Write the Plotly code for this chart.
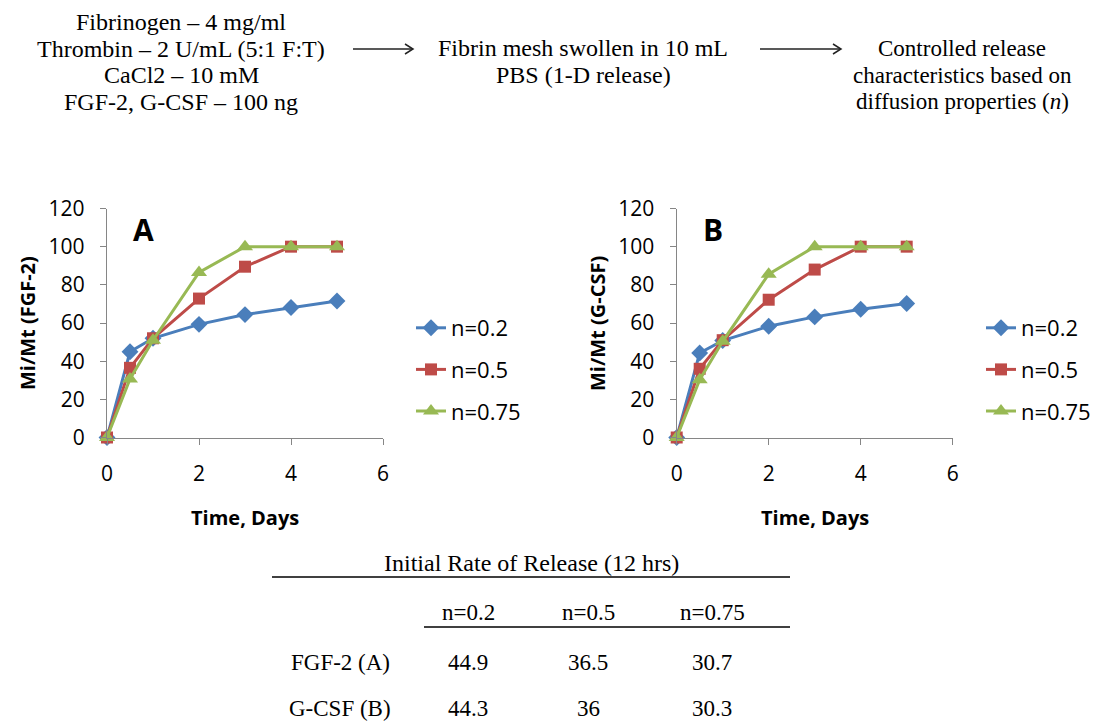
import plotly.graph_objects as go

W, H = 1093, 724

# ---------------- data ----------------
days = [0, 0.5, 1, 2, 3, 4, 5]
series_names = ["n=0.2", "n=0.5", "n=0.75"]

fgf2_n02 = [0, 44.9, 52.0, 59.3, 64.4, 68.1, 71.5]
fgf2_n05 = [0, 36.5, 52.0, 72.8, 89.5, 100, 100]
fgf2_n075 = [0, 30.7, 51.0, 86.5, 100, 100, 100]

gcsf_n02 = [0, 44.3, 50.8, 58.3, 63.2, 67.2, 70.2]
gcsf_n05 = [0, 36.0, 51.0, 72.2, 88.0, 100, 100]
gcsf_n075 = [0, 30.3, 50.4, 85.6, 100, 100, 100]

table_title = "Initial Rate of Release (12 hrs)"
table_cols = ["n=0.2", "n=0.5", "n=0.75"]
table_rows = ["FGF-2 (A)", "G-CSF (B)"]
table_fgf2 = ["44.9", "36.5", "30.7"]
table_gcsf = ["44.3", "36", "30.3"]

left_lines = ["Fibrinogen – 4 mg/ml", "Thrombin – 2 U/mL (5:1 F:T)",
              "CaCl2 – 10 mM", "FGF-2, G-CSF – 100 ng"]
mid_lines = ["Fibrin mesh swollen in 10 mL", "PBS (1-D release)"]
right_lines = ["Controlled release", "characteristics based on",
               "diffusion properties (<i>n</i>)"]

# ---------------- styles ----------------
colors = ["#4A7EBB", "#BE4B48", "#98B954"]
symbols = ["diamond", "square", "triangle-up"]
msizes = [13, 12, 14]
AX = "#868686"
SANS = "Open Sans"
SERIF = "Liberation Serif"


def px(x):
    return x / W


def py(y):
    return 1 - y / H


fig = go.Figure()

groups = [
    ("x", "y", "legend", [fgf2_n02, fgf2_n05, fgf2_n075]),
    ("x2", "y2", "legend2", [gcsf_n02, gcsf_n05, gcsf_n075]),
]
for gi, (xa, ya, lg, data) in enumerate(groups):
    for i, vals in enumerate(data):
        fig.add_trace(go.Scatter(
            x=days, y=vals, name=series_names[i], mode="lines+markers",
            xaxis=xa, yaxis=ya, legend=lg, legendgroup=f"{lg}_{i}",
            line=dict(color=colors[i], width=3),
            marker=dict(symbol=symbols[i], size=msizes[i], color=colors[i]),
            cliponaxis=False,
        ))

axis_common = dict(showgrid=False, zeroline=False, showline=True, linecolor=AX,
                   linewidth=1.3, ticks="outside", ticklen=6, tickcolor=AX,
                   tickfont=dict(family=SANS, size=21, color="black"),
                   fixedrange=True)

ydom = [py(437.5), py(208.5)]
fig.update_layout(
    xaxis=dict(domain=[px(107), px(383)], range=[0, 6], dtick=2, anchor="y",
               ticklabelstandoff=11, **axis_common),
    yaxis=dict(domain=ydom, range=[0, 120], dtick=20, anchor="x",
               ticklabelstandoff=11, **axis_common),
    xaxis2=dict(domain=[px(676.7), px(952.7)], range=[0, 6], dtick=2, anchor="y2",
                ticklabelstandoff=11, **axis_common),
    yaxis2=dict(domain=ydom, range=[0, 120], dtick=20, anchor="x2",
                ticklabelstandoff=11, **axis_common),
)

leg_common = dict(font=dict(family=SANS, size=22, color="black"),
                  bgcolor="rgba(0,0,0,0)", borderwidth=0, tracegroupgap=10,
                  xanchor="left", yanchor="top", itemclick=False, itemdoubleclick=False)
fig.update_layout(
    legend=dict(x=px(411), y=py(307), **leg_common),
    legend2=dict(x=px(981), y=py(307), **leg_common),
)

ann = []


def add_text(x, y, text, family, size, angle=0):
    ann.append(dict(x=px(x), y=py(y), xref="paper", yref="paper", text=text,
                    xanchor="center", yanchor="middle", showarrow=False, textangle=angle,
                    font=dict(family=family, size=size, color="black")))


# axis titles
for xc in (245, 815):
    add_text(xc, 517, "<b>Time, Days</b>", SANS, 20)
add_text(27, 323, "<b>Mi/Mt (FGF-2)</b>", SANS, 20, -90)
add_text(597, 323, "<b>Mi/Mt (G-CSF)</b>", SANS, 20, -90)
# panel letters
add_text(143, 229, "<b>A</b>", SANS, 30)
add_text(713, 229, "<b>B</b>", SANS, 30)

# top flow text
for i, t in enumerate(left_lines):
    add_text(181, 22 + 26.7 * i, t, SERIF, 24)
for i, t in enumerate(mid_lines):
    add_text(583, 48.5 + 26.7 * i, t, SERIF, 24)
for i, t in enumerate(right_lines):
    add_text(962, 48.5 + 26.7 * i, t, SERIF, 23)

# table text
add_text(531, 563, table_title, SERIF, 24)
col_x = [468, 588, 712]
for xc, t in zip(col_x, table_cols):
    add_text(xc, 612, t, SERIF, 23)
row_y = [662, 708]
for yc, label, vals in zip(row_y, table_rows, [table_fgf2, table_gcsf]):
    add_text(340, yc, label, SERIF, 23)
    for xc, v in zip(col_x, vals):
        add_text(xc, yc, v, SERIF, 23)

shapes = []
# arrows
for x0, x1 in [(353, 413), (760, 841)]:
    shapes.append(dict(type="line", xref="paper", yref="paper", x0=px(x0), x1=px(x1),
                       y0=py(49), y1=py(49), line=dict(color="#222222", width=1.5)))
    shapes.append(dict(type="path", xref="paper", yref="paper",
                       path=f"M {px(x1-8)} {py(44)} L {px(x1)} {py(49)} L {px(x1-8)} {py(54)}",
                       line=dict(color="#222222", width=1.5)))
# table rules
shapes.append(dict(type="line", xref="paper", yref="paper", x0=px(272), x1=px(790),
                   y0=py(577), y1=py(577), line=dict(color="black", width=1.5)))
shapes.append(dict(type="line", xref="paper", yref="paper", x0=px(424), x1=px(790),
                   y0=py(627), y1=py(627), line=dict(color="black", width=1.5)))

fig.update_layout(
    width=W, height=H, margin=dict(l=0, r=0, t=0, b=0, autoexpand=False),
    paper_bgcolor="white", plot_bgcolor="white",
    annotations=ann, shapes=shapes, showlegend=True,
)

fig.write_html("out.html", config={"displayModeBar": False})
